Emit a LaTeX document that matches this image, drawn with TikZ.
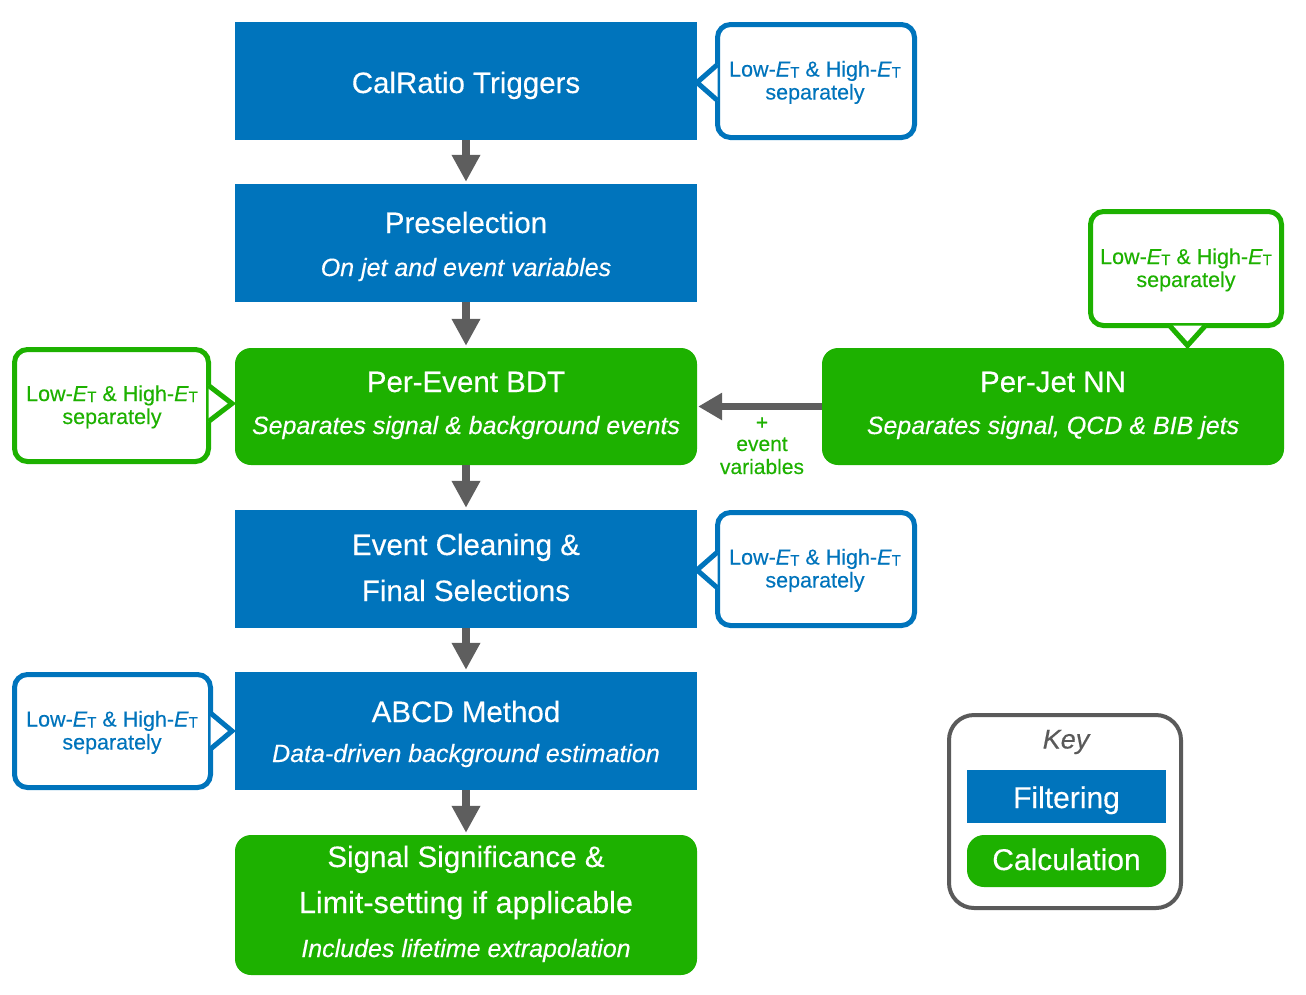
\documentclass[tikz,border=0pt]{standalone}
\usepackage{fontspec}
\setmainfont{Liberation Sans}[UprightFeatures={FakeBold=0.3},ItalicFeatures={FakeBold=0.3}]
\usetikzlibrary{arrows.meta}
\definecolor{fblue}{RGB}{0,116,188}
\definecolor{cgreen}{RGB}{29,177,0}
\definecolor{agray}{RGB}{94,94,94}
\definecolor{kgray}{RGB}{90,90,90}
\newcommand{\myET}{\textit{E}\raisebox{-1pt}{\fontsize{15}{15}\selectfont T}}
\begin{document}
\begin{tikzpicture}[x=1pt,y=-1pt,
  filterbox/.style={fill=fblue, draw=none, minimum width=462pt, minimum height=118pt, inner sep=0pt},
  calcbox/.style={fill=cgreen, draw=none, rounded corners=16pt, minimum width=462pt, minimum height=117pt, inner sep=0pt},
  ttl/.style={text=white, font=\fontsize{29.5}{35}\selectfont, anchor=base, inner sep=0pt},
  subt/.style={text=white, font=\fontsize{25}{30}\selectfont\itshape, anchor=base, inner sep=0pt},
  callout/.style={draw=#1, line width=5pt, rounded corners=13pt, fill=white, inner sep=0pt},
  ptr/.style={draw=#1, fill=white, line width=5pt, line join=miter},
  ctext/.style={text=#1, font=\fontsize{21.5}{23}\selectfont, inner sep=0pt, anchor=base},
  downarrow/.style={draw=agray, line width=8pt, -{Triangle[width=27pt,length=27pt]}, shorten >=2pt},
  sidearrow/.style={draw=agray, line width=6.5pt, -{Triangle[width=26pt,length=24pt]}, shorten >=1pt},
]
\useasboundingbox (0,0) rectangle (1306,994);

% main column
\node[filterbox] (trig) at (466,81) {};
\node[ttl] (trigt) at (466,93) {CalRatio Triggers};

\node[filterbox] (pre) at (466,243) {};
\node[ttl] (pret) at (466,233) {Preselection};
\node[subt] (pres) at (466,276) {On jet and event variables};

\node[calcbox] (bdt) at (466,406.5) {};
\node[ttl] (bdtt) at (466,392) {Per-Event BDT};
\node[subt] (bdts) at (466,434) {Separates signal \& background events};

\node[filterbox] (clean) at (466,569) {};
\node[ttl] (cleana) at (466,555) {Event Cleaning \&};
\node[ttl] (cleanb) at (466,601) {Final Selections};

\node[filterbox] (abcd) at (466,731) {};
\node[ttl] (abcdt) at (466,722) {ABCD Method};
\node[subt] (abcds) at (466,762) {Data-driven background estimation};

\node[calcbox, minimum height=140pt] (sig) at (466,905) {};
\node[ttl] (siga) at (466,867) {Signal Significance \&};
\node[ttl, font=\fontsize{30.5}{35}\selectfont] (sigb) at (466,913) {Limit-setting if applicable};
\node[subt] (sigs) at (466,957) {Includes lifetime extrapolation};

\node[calcbox] (nn) at (1053,406.5) {};
\node[ttl] (nnt) at (1053,392) {Per-Jet NN};
\node[subt] (nns) at (1053,434) {Separates signal, QCD \& BIB jets};

% arrows
\draw[downarrow] (trig.south) -- (pre.north);
\draw[downarrow] (pre.south) -- (bdt.north);
\draw[downarrow] (bdt.south) -- (clean.north);
\draw[downarrow] (clean.south) -- (abcd.north);
\draw[downarrow] (abcd.south) -- (sig.north);
\draw[sidearrow] (nn.west) -- (bdt.east);
\node[ctext=cgreen, font=\fontsize{21}{23}\selectfont] (ev1) at (762,429.5) {+};
\node[ctext=cgreen, font=\fontsize{21}{23}\selectfont] (ev2) at (762,451) {event};
\node[ctext=cgreen, font=\fontsize{21}{23}\selectfont] (ev3) at (762,474) {variables};

% callout: top right blue
\node[callout=fblue, minimum width=197pt, minimum height=113pt] (cb1) at (816,81) {};
\filldraw[ptr=fblue] ([shift={(2.5,-16.5)}]cb1.west) -- ([shift={(-18,1.5)}]cb1.west) -- ([shift={(2.5,19.5)}]cb1.west);
\node[ctext=fblue] (cb1a) at (815,76.5) {Low-\myET{} \& High-\myET};
\node[ctext=fblue] (cb1b) at (815,99.5) {separately};

% callout: middle right blue
\node[callout=fblue, minimum width=197pt, minimum height=113pt] (cb2) at (816,569) {};
\filldraw[ptr=fblue] ([shift={(2.5,-17)}]cb2.west) -- ([shift={(-18,1)}]cb2.west) -- ([shift={(2.5,19)}]cb2.west);
\node[ctext=fblue] (cb2a) at (815,564.5) {Low-\myET{} \& High-\myET};
\node[ctext=fblue] (cb2b) at (815,587.5) {separately};

% callout: top green (points down)
\node[callout=cgreen, minimum width=191pt, minimum height=114pt] (cg1) at (1186,268.5) {};
\filldraw[ptr=cgreen] ([shift={(-16.5,-2.5)}]cg1.south) -- ([shift={(1.5,17.5)}]cg1.south) -- ([shift={(19.5,-2.5)}]cg1.south);
\node[ctext=cgreen] (cg1a) at (1186,264) {Low-\myET{} \& High-\myET};
\node[ctext=cgreen] (cg1b) at (1186,287) {separately};

% callout: left green (points right)
\node[callout=cgreen, minimum width=194pt, minimum height=112pt] (cgl) at (111.5,405.5) {};
\filldraw[ptr=cgreen] ([shift={(-2.5,-20)}]cgl.east) -- ([shift={(21,-2)}]cgl.east) -- ([shift={(-2.5,16)}]cgl.east);
\node[ctext=cgreen] (cgla) at (112,401) {Low-\myET{} \& High-\myET};
\node[ctext=cgreen] (cglb) at (112,424) {separately};

% callout: bottom left blue (points right)
\node[callout=fblue, minimum width=196pt, minimum height=113pt] (cbl) at (112.5,731) {};
\filldraw[ptr=fblue] ([shift={(-2.5,-18)}]cbl.east) -- ([shift={(19,0)}]cbl.east) -- ([shift={(-2.5,18)}]cbl.east);
\node[ctext=fblue] (cbla) at (112,726.5) {Low-\myET{} \& High-\myET};
\node[ctext=fblue] (cblb) at (112,749.5) {separately};

% key
\node[draw=kgray, line width=4pt, rounded corners=25pt, minimum width=232pt, minimum height=193pt, inner sep=0pt] (key) at (1065,811.5) {};
\node[anchor=base, inner sep=0pt, text=kgray, font=\fontsize{27}{30}\selectfont\itshape] (keyt) at (1066,748.5) {Key};
\node[fill=fblue, minimum width=199pt, minimum height=53pt, inner sep=0pt] (kf) at (1066.5,796.5) {};
\node[ttl, font=\fontsize{30}{35}\selectfont] (kft) at (1066.5,808) {Filtering};
\node[fill=cgreen, rounded corners=17pt, minimum width=199pt, minimum height=52pt, inner sep=0pt] (kc) at (1066.5,861) {};
\node[ttl, font=\fontsize{30}{35}\selectfont] (kct) at (1066.5,870) {Calculation};
\end{tikzpicture}
\end{document}
